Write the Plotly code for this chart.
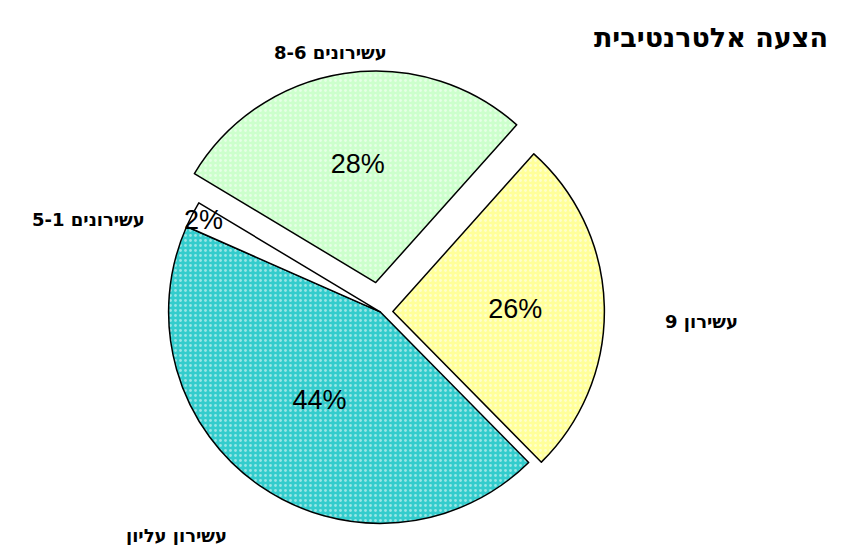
import plotly.graph_objects as go

# Data
categories = ["עשירונים 8-6", "עשירון 9", "עשירון עליון", "עשירונים 5-1"]
values = [28, 26, 44, 2]
pct_labels = ["28%", "26%", "44%", "2%"]
colors = ["#CCFFCC", "#FFFF99", "#33CCCC", "#FFFFFF"]
pulls = [0.14, 0.06, 0, 0]
title_text = "הצעה אלטרנטיבית"

fig = go.Figure()
fig.add_trace(go.Pie(
    labels=categories,
    values=values,
    text=pct_labels,
    textinfo="text",
    textposition="inside",
    insidetextorientation="horizontal",
    sort=False,
    direction="clockwise",
    rotation=-59,
    pull=pulls,
    marker=dict(
        colors=colors,
        line=dict(color="black", width=1.5),
        pattern=dict(shape=[".", ".", ".", ""], fgcolor="white", size=5, solidity=0.25, fillmode="overlay"),
    ),
    textfont=dict(family="Arial, Liberation Sans, sans-serif", size=27, color="black"),
    domain=dict(x=[0.145, 0.74], y=[0.0, 0.885]),
    showlegend=False,
    hoverinfo="label+percent",
))

# Category labels placed around the pie
label_pos = [(322, 44), (693, 313), (168, 527), (80, 211)]
for cat, (px, py) in zip(categories, label_pos):
    fig.add_annotation(
        text="<b>" + cat + "</b>", x=px / 841, y=1 - py / 545, xref="paper", yref="paper",
        showarrow=False, font=dict(family="DejaVu Sans, Arial, sans-serif", size=18, color="black"),
        xanchor="center", yanchor="middle",
    )

fig.update_layout(
    width=841, height=545,
    margin=dict(l=0, r=0, t=0, b=0),
    paper_bgcolor="white",
    plot_bgcolor="white",
    uniformtext=dict(minsize=27, mode="show"),
    title=dict(
        text="<b>" + title_text + "</b>",
        x=0.975, xanchor="right", y=0.945, yanchor="middle",
        font=dict(family="DejaVu Sans, Arial, sans-serif", size=27, color="black"),
    ),
)

fig.write_html("out.html")
